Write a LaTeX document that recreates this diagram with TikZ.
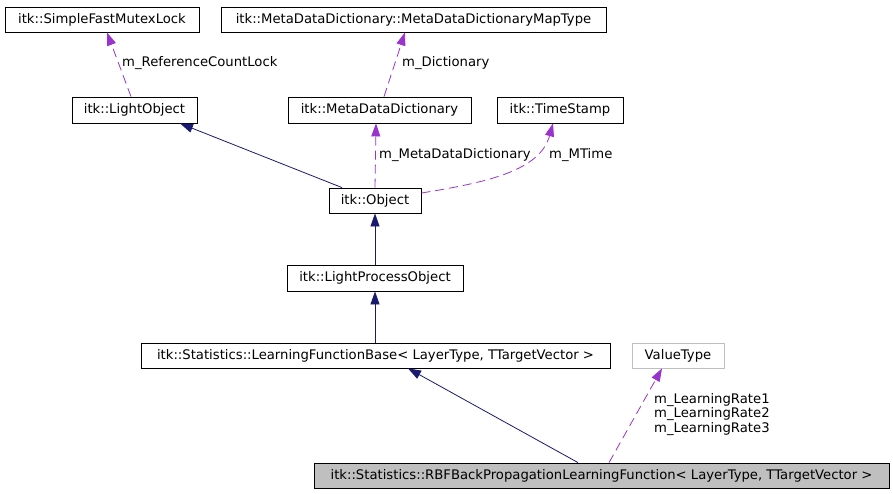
\documentclass[tikz,border=0pt]{standalone}
\usepackage{fontspec}
\setmainfont{DejaVu Sans}
\usetikzlibrary{arrows.meta}
\definecolor{inhcol}{HTML}{191970}
\definecolor{usecol}{HTML}{9A32CD}
\definecolor{greybox}{HTML}{BFBFBF}
\tikzset{
  every node/.style={font=\fontsize{13.2}{14.5}\selectfont},
  cls/.style={draw=black, line width=0.8pt, inner sep=0pt, minimum height=25pt, anchor=center},
  inh/.style={draw=inhcol, line width=0.8pt, -{Triangle[length=13pt,width=9pt]}},
  use/.style={draw=usecol, line width=0.8pt, dash pattern=on 9pt off 5pt, -{Triangle[length=13pt,width=9pt]}},
  lbl/.style={anchor=west, inner sep=0pt, align=left}
}
\begin{document}
\begin{tikzpicture}[x=1pt,y=-1pt]
\useasboundingbox (0,0) rectangle (893,493);
% classes
\node[cls, minimum width=194pt] (sfml) at (102,19.5) {itk::SimpleFastMutexLock};
\node[cls, minimum width=385pt] (map) at (413.5,19.5) {itk::MetaDataDictionary::MetaDataDictionaryMapType};
\node[cls, minimum width=125pt, minimum height=26pt] (lobj) at (134.5,110) {itk::LightObject};
\node[cls, minimum width=183pt, minimum height=26pt] (mdd) at (379.5,110) {itk::MetaDataDictionary};
\node[cls, minimum width=126pt, minimum height=26pt] (ts) at (560,110) {itk::TimeStamp};
\node[cls, minimum width=92pt] (obj) at (375,200.5) {itk::Object};
\node[cls, minimum width=176pt, minimum height=26pt] (lpo) at (375,278) {itk::LightProcessObject};
\node[cls, minimum width=469pt] (lfb) at (375.5,355.5) {itk::Statistics::LearningFunctionBase< LayerType, TTargetVector >};
\node[cls, draw=greybox, minimum width=92pt] (vt) at (678,355.5) {ValueType};
\node[cls, fill=greybox, minimum width=575pt] (rbf) at (601.5,475.5) {itk::Statistics::RBFBackPropagationLearningFunction< LayerType, TTargetVector >};
% usage edges
\draw[use] ([xshift=-3.5pt]lobj.north) -- ([xshift=5pt]sfml.south);
\draw[use] ([xshift=4.5pt]mdd.north) -- ([xshift=-8.5pt]map.south);
\draw[use] (obj.north) -- ([xshift=-3.5pt]mdd.south);
\draw[use] ([yshift=7.5pt]obj.east) .. controls (490,182) and (540,170) .. ([xshift=-7pt]ts.south);
\draw[use] ([xshift=7.5pt]rbf.north) -- ([xshift=-16pt]vt.south);
% inheritance edges
\draw[inh] ([xshift=-33pt]obj.north) -- ([xshift=45.5pt]lobj.south);
\draw[inh] (lpo.north) -- (obj.south);
\draw[inh] ([xshift=-0.5pt]lfb.north) -- (lpo.south);
\draw[inh] ([xshift=-23.5pt]rbf.north) -- ([xshift=32.5pt]lfb.south);
% labels
\node[lbl] (l1) at (122,63) {m\_ReferenceCountLock};
\node[lbl] (l2) at (402,63) {m\_Dictionary};
\node[lbl] (l3) at (379,155) {m\_MetaDataDictionary};
\node[lbl] (l4) at (549,155) {m\_MTime};
\node[lbl] (l5) at (654,414.5) {m\_LearningRate1\\m\_LearningRate2\\m\_LearningRate3};
\end{tikzpicture}
\end{document}
